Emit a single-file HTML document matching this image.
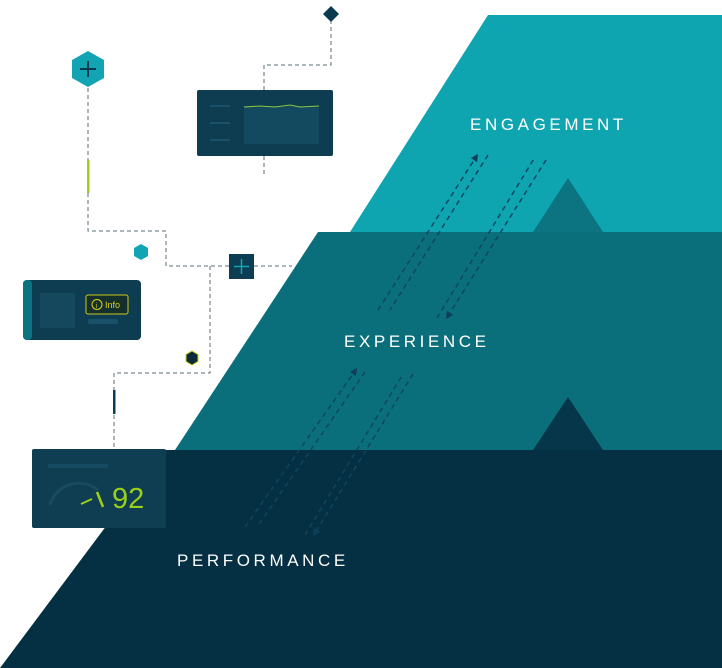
<!DOCTYPE html>
<html><head><meta charset="utf-8"><style>
html,body{margin:0;padding:0;background:#fff;}
svg{display:block;}
text{font-family:"Liberation Sans",sans-serif;}
</style></head><body>
<svg width="722" height="668" viewBox="0 0 722 668" xmlns="http://www.w3.org/2000/svg">
<defs>
<marker id="ah" viewBox="0 0 10 10" refX="5" refY="5" markerWidth="5" markerHeight="5" orient="auto"><path d="M0,0 L10,5 L0,10 z" fill="#0d3f58"/></marker>
</defs>
<polygon points="488,15 722,15 722,232 350,232" fill="#0ea5b1"/>
<polygon points="568,178 603,232 533,232" fill="#0b7480"/>
<polygon points="318,232 722,232 722,450 175,450" fill="#0b6f7b"/>
<polygon points="568,397 603,450 533,450" fill="#05364a"/>
<polygon points="163,450 722,450 722,668 0,668" fill="#052f42"/>

<g stroke="#0d4660" stroke-width="1.5" stroke-dasharray="5,4" fill="none">
<line x1="378" y1="310" x2="476" y2="157" marker-end="url(#ah)"/>
<line x1="488" y1="155" x2="390" y2="310"/>
<line x1="437" y1="318" x2="535" y2="157"/>
<line x1="546" y1="160" x2="448" y2="316" marker-end="url(#ah)"/>
<line x1="245" y1="527" x2="355" y2="371" marker-end="url(#ah)"/>
<line x1="365" y1="372" x2="257" y2="527"/>
<line x1="305" y1="535" x2="403" y2="374"/>
<line x1="413" y1="374" x2="315" y2="533" marker-end="url(#ah)"/>
</g>

<text x="470" y="130" fill="#fff" font-size="17" letter-spacing="3.6">ENGAGEMENT</text>
<text x="344" y="347" fill="#fff" font-size="17" letter-spacing="3.6">EXPERIENCE</text>
<text x="177" y="566" fill="#fff" font-size="17" letter-spacing="3.6">PERFORMANCE</text>

<g stroke="#5a6f7a" stroke-width="1" stroke-dasharray="4,3" fill="none">
<polyline points="331,20 331,65 264,65 264,90"/>
<line x1="264" y1="156" x2="264" y2="176"/>
<polyline points="88,88 88,231 166,231 166,266 229,266"/>
<line x1="254" y1="266" x2="292" y2="266"/>
<polyline points="210,266 210,373 114,373 114,449"/>
</g>
<rect x="87" y="160" width="2.5" height="33" fill="#9ccf1a"/>
<rect x="113" y="390" width="2.5" height="24" fill="#0d3d52"/>

<polygon points="331,6 339,14 331,22 323,14" fill="#0b3a4e"/>
<polygon points="88,51 104,60 104,78 88,87 72,78 72,60" fill="#12a4b3"/>
<path d="M80,69 H96 M88,61 V77" stroke="#0b3a4e" stroke-width="2"/>
<polygon points="141,244 148,248 148,256 141,260 134,256 134,248" fill="#12a4b3"/>
<polygon points="192,351 198,354.5 198,361.5 192,365 186,361.5 186,354.5" fill="#0b2a3a" stroke="#c8d21c" stroke-width="1"/>
<rect x="229" y="254" width="25" height="25" fill="#0d3d52"/>
<path d="M234,266.5 H249 M241.5,259 V274" stroke="#12a4b3" stroke-width="1.5"/>

<rect x="197" y="90" width="136" height="66" rx="2" fill="#0e3d52"/>
<rect x="244" y="106" width="75" height="38" fill="#134a60"/>
<polyline points="244,107 260,106 275,107 290,105 300,107 319,106" stroke="#8bc53f" stroke-width="1" fill="none"/>
<rect x="210" y="105" width="20" height="2" fill="#1a5068"/>
<rect x="210" y="122" width="20" height="2" fill="#1a5068"/>
<rect x="210" y="139" width="20" height="2" fill="#1a5068"/>

<rect x="23" y="280" width="118" height="60" rx="4" fill="#0e3d52"/>
<rect x="23" y="280" width="9" height="60" rx="4" fill="#0b7480"/>
<rect x="40" y="293" width="35" height="35" fill="#15475d"/>
<rect x="86" y="295" width="42" height="19" rx="2" fill="#152f2c" stroke="#c8c81c" stroke-width="1"/>
<circle cx="97" cy="304.5" r="5" fill="none" stroke="#d8d020" stroke-width="1"/>
<text x="95.5" y="308" fill="#d8d020" font-size="7">i</text>
<text x="105" y="308" fill="#d8d020" font-size="9">Info</text>
<rect x="88" y="319" width="30" height="5" rx="2" fill="#1a5068"/>

<rect x="32" y="449" width="134" height="79" rx="2" fill="#0f3d52"/>
<rect x="48" y="464" width="60" height="4" fill="#164a60"/>
<path d="M50,505 A30,30 0 0 1 98,490" stroke="#184b60" stroke-width="3" fill="none"/>
<line x1="81" y1="504" x2="92" y2="499" stroke="#9ccf1a" stroke-width="2"/>
<path d="M97,492 L103,507" stroke="#9ccf1a" stroke-width="2.5"/>
<text x="112" y="508" fill="#9ccf1a" font-size="29">92</text>
</svg>
</body></html>
